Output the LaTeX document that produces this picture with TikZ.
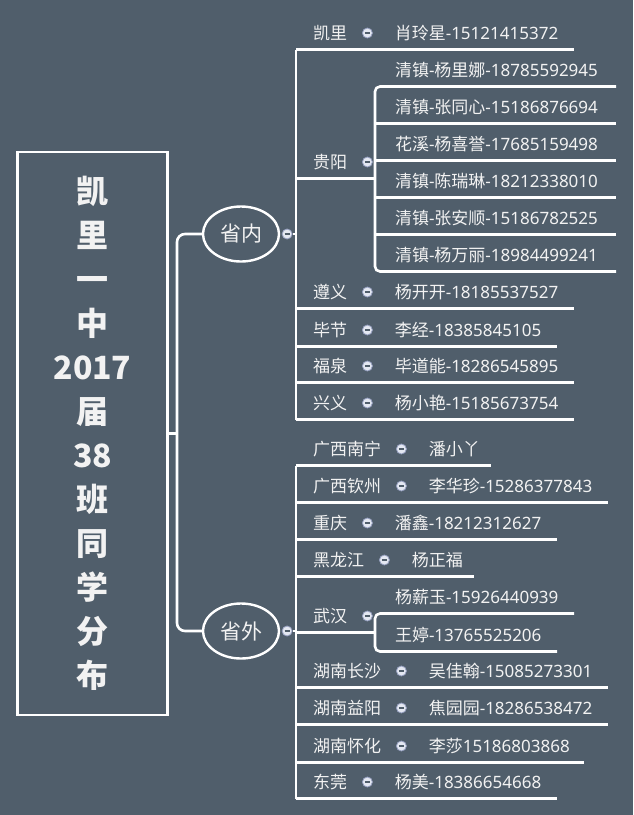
\documentclass[tikz,border=0pt]{standalone}
\usepackage{fontspec}
\setmainfont{Noto Sans CJK SC}
\newfontfamily\latfont{Noto Sans}
\newcommand\tel[1]{{\latfont #1}}
\usepackage{tikz}
\usetikzlibrary{positioning}
\usetikzlibrary{shapes.geometric}

\definecolor{bgcol}{RGB}{80,94,107}
\definecolor{txtcol}{RGB}{242,242,242}
\definecolor{dotfill}{RGB}{228,232,242}
\definecolor{dotline}{RGB}{150,160,192}

\begin{document}
\begin{tikzpicture}[
            x = 1pt, y = -1pt, % pixel grid, y runs down
            node distance = 15pt, % gap text -> dot
            uline/.style = {draw = white, line width = 2.6pt},
            topic/.style = {text = txtcol, font = \fontsize{17}{20}\selectfont, inner sep = 0pt,
                outer xsep = 0pt, outer ysep = 8.5pt, text height = 14.5pt, text depth = 1.5pt, anchor = west},
            branch/.style = {ellipse, draw = white, line width = 2.4pt, text = txtcol,
                font = \fontsize{21}{24}\selectfont, minimum width = 76pt, minimum height = 55pt, inner sep = 0pt},
            dot/.style = {circle, draw = dotline, fill = dotfill, line width = 0.8pt, minimum size = 10pt, inner sep = 0pt,
                path picture = {\draw[bgcol, line width = 1.3pt] ([xshift=-2.6pt]path picture bounding box.center)
                    -- ([xshift=2.6pt]path picture bounding box.center);}}
        ]

        \path[use as bounding box, fill = bgcol] (0,0) rectangle (633,815);

        \tikzstyle{rootbox}=[
            draw = white,
            line width = 2.6pt,
            text = txtcol,
            align = center,
            inner sep = 0pt,
            minimum width = 150pt,
            minimum height = 563pt,
            font = \fontsize{32}{44}\selectfont\bfseries
        ]

        \node[rootbox] (root) at (92.5,433.5) {凯\\里\\一\\中\\2017\\届\\38\\班\\同\\学\\分\\布};

        \node[branch] (sn) at (241,234) {省内};
        \node[dot, right=1.5pt of sn] (sn-d) {};
        \node[branch] (sw) at (241,631) {省外};
        \node[dot, right=1.5pt of sw] (sw-d) {};

        \coordinate (rbar) at (177,0);
        \coordinate (inbar) at (296,0);
        \coordinate (gybar) at (375,0);

        % province inside
        \node[topic] (kl) at (313,33) {凯里};
        \node[dot, right=of kl] (kl-d) {};
        \node[topic, right=22pt of kl-d] (kl-n) {肖玲星\tel{-15121415372}};

        \node[topic] (gy) at (313,162) {贵阳};
        \node[dot, right=of gy] (gy-d) {};
        \node[topic] (gy-1) at (395,70) {清镇\tel{-}杨里娜\tel{-18785592945}};
        \node[topic] (gy-2) at (395,107) {清镇\tel{-}张同心\tel{-15186876694}};
        \node[topic] (gy-3) at (395,144) {花溪\tel{-}杨喜誉\tel{-17685159498}};
        \node[topic] (gy-4) at (395,181) {清镇\tel{-}陈瑞琳\tel{-18212338010}};
        \node[topic] (gy-5) at (395,218) {清镇\tel{-}张安顺\tel{-15186782525}};
        \node[topic] (gy-6) at (395,255) {清镇\tel{-}杨万丽\tel{-18984499241}};

        \node[topic] (zy) at (313,292) {遵义};
        \node[dot, right=of zy] (zy-d) {};
        \node[topic, right=22pt of zy-d] (zy-n) {杨开开\tel{-18185537527}};

        \node[topic] (bj) at (313,330) {毕节};
        \node[dot, right=of bj] (bj-d) {};
        \node[topic, right=22pt of bj-d] (bj-n) {李经\tel{-18385845105}};

        \node[topic] (fq) at (313,366) {福泉};
        \node[dot, right=of fq] (fq-d) {};
        \node[topic, right=22pt of fq-d] (fq-n) {毕道能\tel{-18286545895}};

        \node[topic] (xy) at (313,403) {兴义};
        \node[dot, right=of xy] (xy-d) {};
        \node[topic, right=22pt of xy-d] (xy-n) {杨小艳\tel{-15185673754}};

        % province outside
        \node[topic] (nn) at (313,449) {广西南宁};
        \node[dot, right=of nn] (nn-d) {};
        \node[topic, right=22pt of nn-d] (nn-n) {潘小丫};

        \node[topic] (qz) at (313,486) {广西钦州};
        \node[dot, right=of qz] (qz-d) {};
        \node[topic, right=22pt of qz-d] (qz-n) {李华珍\tel{-15286377843}};

        \node[topic] (cq) at (313,523) {重庆};
        \node[dot, right=of cq] (cq-d) {};
        \node[topic, right=22pt of cq-d] (cq-n) {潘鑫\tel{-18212312627}};

        \node[topic] (hl) at (313,560) {黑龙江};
        \node[dot, right=of hl] (hl-d) {};
        \node[topic, right=22pt of hl-d] (hl-n) {杨正福};

        \node[topic] (wh) at (313,616) {武汉};
        \node[dot, right=of wh] (wh-d) {};
        \node[topic] (wh-1) at (395,597) {杨薪玉\tel{-15926440939}};
        \node[topic] (wh-2) at (395,635) {王婷\tel{-13765525206}};

        \node[topic] (cs) at (313,671) {湖南长沙};
        \node[dot, right=of cs] (cs-d) {};
        \node[topic, right=22pt of cs-d] (cs-n) {吴佳翰\tel{-15085273301}};

        \node[topic] (yy) at (313,708) {湖南益阳};
        \node[dot, right=of yy] (yy-d) {};
        \node[topic, right=22pt of yy-d] (yy-n) {焦园园\tel{-18286538472}};

        \node[topic] (hh) at (313,746) {湖南怀化};
        \node[dot, right=of hh] (hh-d) {};
        \node[topic, right=22pt of hh-d] (hh-n) {李莎\tel{15186803868}};

        \node[topic] (dg) at (313,782) {东莞};
        \node[dot, right=of dg] (dg-d) {};
        \node[topic, right=22pt of dg-d] (dg-n) {杨美\tel{-18386654668}};

        % connectors
        \draw[uline] (root.east) -- (rbar |- root.east);
        \draw[uline, rounded corners = 8pt] (sn.west) -- (rbar |- sn.west) -- (rbar |- sw.west) -- (sw.west);

        \draw[uline] (sn-d) -- (inbar |- sn-d);
        \draw[uline] (inbar |- kl.south) -- (inbar |- xy.south);
        \foreach \a/\e in {kl/574, zy/574, bj/557, fq/574, xy/574} {
            \coordinate (lend) at (\e,0);
            \draw[uline] (inbar |- \a.south) -- (lend |- \a.south);
        }
        \coordinate (gyend) at (616,0);
        \draw[uline] (inbar |- gy.south) -- (gybar |- gy.south);
        \draw[uline, rounded corners = 5pt] (gyend |- gy-1.south) -- (gybar |- gy-1.south)
            -- (gybar |- gy-6.south) -- (gyend |- gy-6.south);
        \foreach \i in {2,...,5}
            \draw[uline] (gybar |- gy-\i.south) -- (gyend |- gy-\i.south);

        \draw[uline] (sw-d) -- (inbar |- sw-d);
        \draw[uline] (inbar |- nn.south) -- (inbar |- dg.south);
        \foreach \a/\e in {nn/491, qz/608, cq/557, hl/474, cs/608, yy/608, hh/584, dg/557} {
            \coordinate (lend) at (\e,0);
            \draw[uline] (inbar |- \a.south) -- (lend |- \a.south);
        }
        \coordinate (wh1end) at (574,0);
        \coordinate (wh2end) at (557,0);
        \draw[uline] (inbar |- wh.south) -- (gybar |- wh.south);
        \draw[uline, rounded corners = 5pt] (wh1end |- wh-1.south) -- (gybar |- wh-1.south)
            -- (gybar |- wh-2.south) -- (wh2end |- wh-2.south);

\end{tikzpicture}
\end{document}
